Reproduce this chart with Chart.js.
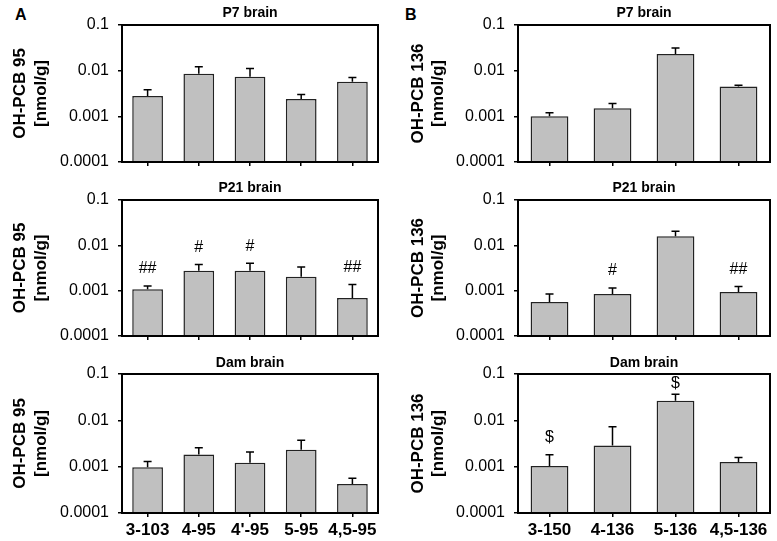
<!DOCTYPE html>
<html>
<head>
<meta charset="utf-8">
<script src="https://cdn.jsdelivr.net/npm/chart.js@4.4.0/dist/chart.umd.min.js"></script>
<style>
  body { margin: 0; background: #fff; width: 777px; height: 541px; position: relative; overflow: hidden;
         font-family: "Liberation Sans", Arial, sans-serif; }
  canvas { position: absolute; }
  .letter { position: absolute; font-weight: bold; font-size: 16px; line-height: 18px; }
</style>
</head>
<body>
<div class="letter" style="left:15px;top:6px">A</div>
<div class="letter" style="left:405px;top:6px">B</div>
<!-- canvases overlap a little: the y tick labels reserve ~19px below the plot -->
<canvas id="a1" width="390" height="181" style="left:0;top:0"></canvas>
<canvas id="b1" width="387" height="181" style="left:390px;top:0"></canvas>
<canvas id="a2" width="390" height="183" style="left:0;top:172px"></canvas>
<canvas id="b2" width="387" height="183" style="left:390px;top:172px"></canvas>
<canvas id="a3" width="390" height="197" style="left:0;top:344px"></canvas>
<canvas id="b3" width="387" height="197" style="left:390px;top:344px"></canvas>
<script>
const FONT = '"Liberation Sans", Arial, sans-serif';

const yTicks = [0.0001, 0.001, 0.01, 0.1];
const yTickLabels = ['0.0001', '0.001', '0.01', '0.1'];

const labelsA = ['3-103', '4-95', "4'-95", '5-95', '4,5-95'];
const labelsB = ['3-150', '4-136', '5-136', '4,5-136'];

// P7 brain
const p7A = [0.0028, 0.0086, 0.0074, 0.0024, 0.0057];
const p7AErr = [0.0010, 0.0036, 0.0037, 0.0006, 0.0014];
const p7B = [0.0010, 0.0015, 0.0232, 0.0045];
const p7BErr = [0.0002, 0.0004, 0.0081, 0.0003];

// P21 brain
const p21A = [0.00107, 0.00276, 0.00276, 0.00204, 0.00069];
const p21AErr = [0.0002, 0.0010, 0.00125, 0.00128, 0.00067];
const p21ANotes = ['##', '#', '#', '', '##'];
const p21B = [0.00056, 0.00084, 0.0158, 0.00094];
const p21BErr = [0.00028, 0.00031, 0.0046, 0.00029];
const p21BNotes = ['', '#', '', '##'];

// Dam brain
const damA = [0.00097, 0.00183, 0.00122, 0.00232, 0.000425];
const damAErr = [0.00032, 0.00073, 0.00084, 0.00139, 0.00014];
const damB = [0.00103, 0.00288, 0.0265, 0.00126];
const damBErr = [0.00077, 0.00438, 0.0100, 0.00031];
const damBNotes = ['$', '', '$', ''];

// error bars (upper only), significance marks and the box around the plot
function extras(errs, notes) {
  return {
    id: 'extras',
    afterDatasetsDraw(chart) {
      const ctx = chart.ctx;
      const y = chart.scales.y;
      const a = chart.chartArea;
      const vals = chart.data.datasets[0].data;
      ctx.save();
      ctx.strokeStyle = '#000';
      ctx.fillStyle = '#000';
      ctx.lineWidth = 1.5;
      ctx.font = '16px ' + FONT;
      ctx.textAlign = 'center';
      ctx.textBaseline = 'middle';
      chart.getDatasetMeta(0).data.forEach((bar, i) => {
        const top = y.getPixelForValue(vals[i] + errs[i]);
        ctx.beginPath();
        ctx.moveTo(bar.x, bar.y);
        ctx.lineTo(bar.x, top);
        ctx.moveTo(bar.x - 4, top);
        ctx.lineTo(bar.x + 4, top);
        ctx.stroke();
        // keep the mark inside the box
        if (notes && notes[i]) ctx.fillText(notes[i], bar.x, Math.max(top - 17, a.top + 10));
      });
      ctx.lineWidth = 2;
      ctx.strokeRect(a.left, a.top, a.right - a.left, a.bottom - a.top);
      ctx.restore();
    }
  };
}

function panel(id, o) {
  new Chart(document.getElementById(id), {
    type: 'bar',
    data: {
      labels: o.labels,
      datasets: [{
        data: o.values,
        backgroundColor: '#c0c0c0',
        borderColor: '#222',
        borderWidth: 1.5,
        categoryPercentage: 0.6,
        barPercentage: 1
      }]
    },
    options: {
      responsive: false,
      animation: false,
      layout: { padding: { right: o.padRight } },
      plugins: {
        legend: { display: false },
        tooltip: { enabled: false },
        title: {
          display: true, text: o.title, fullSize: false, color: '#000',
          font: { family: FONT, size: 14, weight: 'bold', lineHeight: 1.2 },
          padding: { top: o.titleTop, bottom: o.titleBottom }
        }
      },
      scales: {
        x: {
          grid: { offset: false, drawOnChartArea: false, color: '#000', lineWidth: 1.5, tickLength: 4 },
          border: { display: false },
          ticks: { display: o.showLabels, color: '#000', padding: 3, maxRotation: 0, autoSkip: false,
                   font: { family: FONT, size: 17, weight: 'bold' } },
          afterFit: s => { s.height = o.xHeight; }
        },
        y: {
          type: 'logarithmic',
          min: 0.0001,
          max: 0.1,
          afterBuildTicks: s => { s.ticks = yTicks.map(v => ({ value: v })); },
          grid: { drawOnChartArea: false, color: '#000', lineWidth: 1.5, tickLength: 4 },
          border: { display: false },
          ticks: { color: '#000', padding: 9, font: { family: FONT, size: 16 },
                   callback: v => yTickLabels[yTicks.indexOf(v)] },
          title: {
            display: true, text: o.yTitle, color: '#000',
            font: { family: FONT, size: 17, weight: 'bold', lineHeight: 1.2 },
            padding: { top: o.yTitlePad, bottom: 0 }
          },
          afterFit: s => { s.width = o.yWidth; }
        }
      }
    },
    plugins: [extras(o.errs, o.notes)]
  });
}

const colA = { labels: labelsA, yTitle: ['OH-PCB 95', '[nmol/g]'], yWidth: 122, yTitlePad: 10.3, padRight: 12 };
const colB = { labels: labelsB, yTitle: ['OH-PCB 136', '[nmol/g]'], yWidth: 128, yTitlePad: 17.8, padRight: 7 };
const row1 = { title: 'P7 brain', titleTop: 4.6, titleBottom: 3.6, xHeight: 19, showLabels: false };
const row2 = { title: 'P21 brain', titleTop: 7.6, titleBottom: 3.6, xHeight: 19, showLabels: false };
const row3 = { title: 'Dam brain', titleTop: 10.6, titleBottom: 2.6, xHeight: 28, showLabels: true };

panel('a1', { ...colA, ...row1, values: p7A, errs: p7AErr });
panel('b1', { ...colB, ...row1, values: p7B, errs: p7BErr });
panel('a2', { ...colA, ...row2, values: p21A, errs: p21AErr, notes: p21ANotes });
panel('b2', { ...colB, ...row2, values: p21B, errs: p21BErr, notes: p21BNotes });
panel('a3', { ...colA, ...row3, values: damA, errs: damAErr });
panel('b3', { ...colB, ...row3, values: damB, errs: damBErr, notes: damBNotes });
</script>
</body>
</html>
